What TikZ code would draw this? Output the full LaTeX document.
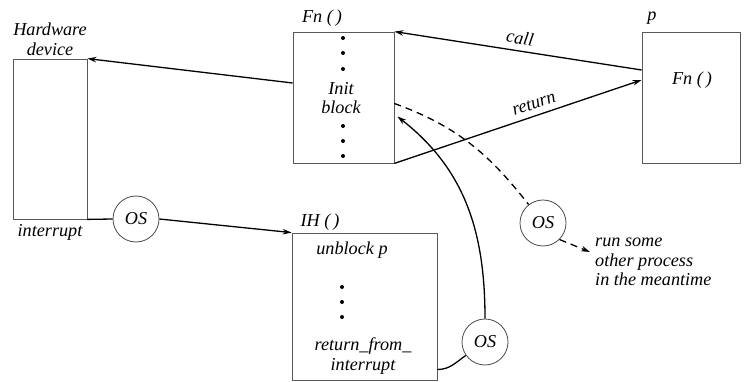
\documentclass[tikz,border=0pt]{standalone}
\usepackage{fontspec}
\setmainfont{Liberation Serif}
\usetikzlibrary{arrows.meta,calc}

\begin{document}
\begin{tikzpicture}[x=1pt,y=-1pt,
  lbl/.style={font=\fontsize{18.2}{19.5}\selectfont\itshape, inner sep=0pt},
  box/.style={draw=black!65, line width=0.8pt, rectangle, inner sep=0pt},
  osnode/.style={draw=black!70, line width=0.8pt, circle, minimum size=46pt,
                 inner sep=0pt, font=\fontsize{18.2}{19.5}\selectfont\itshape},
  link/.style={line width=1.3pt},
  flow/.style={link, -{Stealth[length=9pt,width=5.5pt]}},
  dflow/.style={flow, dash pattern=on 7pt off 5pt},
  dot/.style={circle, fill=black, inner sep=0pt, minimum size=4pt},
]
\useasboundingbox (0,0) rectangle (747,382);

% boxes
\node[box, minimum width=74pt,  minimum height=160pt] (hw) at (50,139)    {};
\node[box, minimum width=101pt, minimum height=131pt] (fn) at (343.5,97.5) {};
\node[box, minimum width=98pt,  minimum height=131pt] (p)  at (691,97.5)   {};
\node[box, minimum width=145pt, minimum height=147pt] (ih) at (364.5,306.5) {};

% OS circles
\node[osnode] (os1) at (136,219) {OS};
\node[osnode] (os2) at (543,223) {OS};
\node[osnode] (os3) at (485,342) {OS};

% texts
\node[lbl, align=center] (hwlbl) at (50,39.5) {Hardware\\device};
\node[lbl] (intlbl) at (50,232) {interrupt};
\node[lbl] (fnlbl) at (322,18) {Fn (\,)};
\node[lbl, align=center] (init) at (341,98) {Init\\block};
\node[lbl] (plbl) at (652,18) {p};
\node[lbl] (pfn) at (692,80) {Fn (\,)};
\node[lbl] (ihlbl) at (320,222) {IH (\,)};
\node[lbl] (unb) at (352,250) {unblock p};
\node[lbl, align=center] (rfi) at (363,356) {return\_from\_\\interrupt};
\node[lbl, align=left, anchor=west] (run) at (595,262) {run some\\other process\\in the meantime};

% dots in the function body
\foreach \y [count=\i] in {38,53,69,126,141,156}
  \node[dot] (fd\i) at (343,\y) {};
\foreach \y [count=\i] in {287,302,317}
  \node[dot] (id\i) at (342,\y) {};

% connectors
\draw[flow] ([yshift=14.5pt]fn.west) -- (hw.north east);
\draw[flow] ([yshift=27.5pt]p.west) -- node[lbl, sloped, above=6pt] (calllbl) {call} (fn.north east);
\draw[flow] (fn.south east) -- node[lbl, sloped, above=6pt, pos=0.58] (retlbl) {return} ([yshift=17.5pt]p.west);
\draw[link] (hw.south east) -- (os1.west);
\draw[flow] (os1.east) -- (ih.north west);
\draw[link] ([yshift=-63pt]ih.east) to[out=0, in=215] (os3.215);
\draw[flow] (os3.north) to[out=90, in=-38] ([yshift=-19pt, xshift=3pt]fn.east);
\draw[link, dash pattern=on 7pt off 5pt] ([yshift=-6pt]fn.east) to[out=-20, in=128] (os2.128);
\coordinate (runtip) at (590,252);
\draw[dflow] (os2.-45) -- (runtip);
\end{tikzpicture}
\end{document}
